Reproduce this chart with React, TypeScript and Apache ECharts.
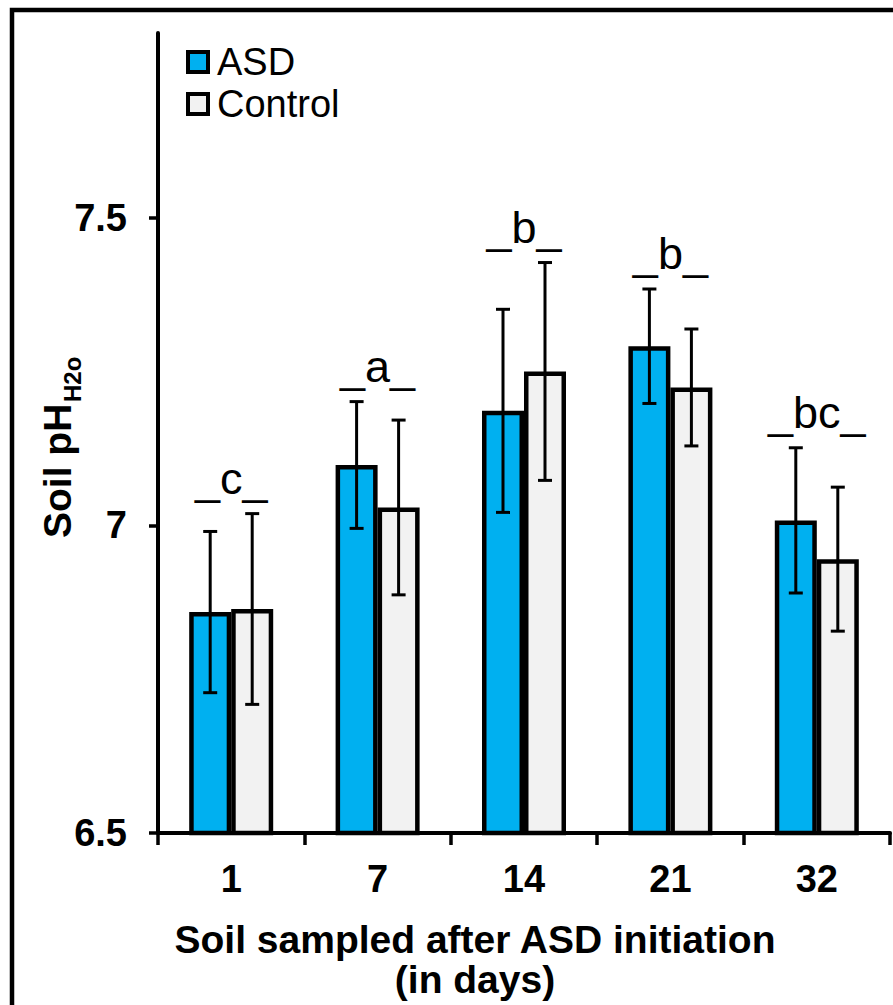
import React, { useEffect, useRef } from 'react';
import * as echarts from 'echarts';

const days = ['1', '7', '14', '21', '32'];
const asdMean = [6.859, 7.098, 7.186, 7.291, 7.008];
const asdErr = [0.131, 0.103, 0.165, 0.093, 0.118];
const controlMean = [6.864, 7.029, 7.25, 7.224, 6.945];
const controlErr = [0.155, 0.142, 0.177, 0.095, 0.117];
const groupLetters = ['c', 'a', 'b', 'b', 'bc'];
const yTicks = [6.5, 7, 7.5];

const FONT = '"Liberation Sans", Arial, sans-serif';
const BAR_W = 42;

function errorSeries(name: string, means: number[], errs: number[], sign: number) {
  return {
    type: 'custom',
    name,
    z: 5,
    data: means.map((m, i) => [i, m, errs[i]]),
    renderItem: (params: any, api: any) => {
      const i = api.value(0);
      const m = api.value(1);
      const e = api.value(2);
      const top = api.coord([i, m + e]);
      const bot = api.coord([i, m - e]);
      const x = top[0] + (sign * BAR_W) / 2;
      const cap = 7;
      const st = { stroke: '#000', lineWidth: 3 };
      return {
        type: 'group',
        children: [
          { type: 'line', shape: { x1: x, y1: top[1], x2: x, y2: bot[1] }, style: st },
          { type: 'line', shape: { x1: x - cap, y1: top[1], x2: x + cap, y2: top[1] }, style: st },
          { type: 'line', shape: { x1: x - cap, y1: bot[1], x2: x + cap, y2: bot[1] }, style: st },
        ],
      };
    },
  };
}

export default function App() {
  const ref = useRef<HTMLDivElement>(null);
  useEffect(() => {
    if (!ref.current) return;
    const chart = echarts.init(ref.current, null, { renderer: 'svg' });
    const groupTops = days.map((_, i) =>
      Math.max(asdMean[i] + asdErr[i], controlMean[i] + controlErr[i])
    );
    chart.setOption({
      animation: false,
      backgroundColor: '#fff',
      textStyle: { fontFamily: FONT },
      grid: { left: 158, top: 33, right: 3, bottom: 172, containLabel: false },
      legend: {
        data: ['ASD', 'Control'],
        orient: 'vertical',
        left: 181,
        top: 38,
        itemWidth: 20,
        itemHeight: 20,
        itemGap: 4,
        icon: 'rect',
        itemStyle: { borderColor: '#000', borderWidth: 4 },
        textStyle: { fontSize: 38, color: '#000', fontFamily: FONT, padding: [0, 0, 0, 4] },
      },
      xAxis: {
        type: 'category',
        data: days,
        axisLine: { lineStyle: { color: '#000', width: 4 } },
        axisTick: { show: true, length: 12, lineStyle: { color: '#000', width: 3.5 } },
        axisLabel: { color: '#000', fontSize: 38, fontWeight: 'bold', margin: 27, fontFamily: FONT },
      },
      yAxis: {
        type: 'value',
        min: 6.5,
        max: 7.8,
        interval: 0.5,
        splitLine: { show: false },
        axisLine: { show: true, lineStyle: { color: '#000', width: 4 } },
        axisTick: { show: true, length: 9, customValues: yTicks, lineStyle: { color: '#000', width: 3.5 } },
        axisLabel: {
          color: '#000',
          fontSize: 38,
          fontWeight: 'bold',
          margin: 31,
          fontFamily: FONT,
          customValues: yTicks,
        },
      },
      series: [
        {
          type: 'bar',
          name: 'ASD',
          data: asdMean,
          barWidth: BAR_W,
          barGap: '0%',
          itemStyle: { color: '#00B0F0', borderColor: '#000', borderWidth: 4.5 },
        },
        {
          type: 'bar',
          name: 'Control',
          data: controlMean,
          barWidth: BAR_W,
          barGap: '0%',
          itemStyle: { color: '#F2F2F2', borderColor: '#000', borderWidth: 4.5 },
        },
        errorSeries('ASD error', asdMean, asdErr, -1),
        errorSeries('Control error', controlMean, controlErr, 1),
        {
          type: 'custom',
          name: 'letters',
          z: 6,
          data: groupTops.map((t, i) => [i, t]),
          renderItem: (params: any, api: any) => {
            const i = api.value(0);
            const p = api.coord([i, api.value(1)]);
            return {
              type: 'text',
              x: p[0],
              y: p[1] - 13,
              style: {
                text: '_' + groupLetters[i] + '_',
                fontSize: 45,
                fontFamily: FONT,
                fill: '#000',
                align: 'center',
                verticalAlign: 'bottom',
              },
            };
          },
        },
      ],
      graphic: [
        {
          type: 'rect',
          shape: { x: 12, y: 10, width: 900, height: 1010 },
          style: { fill: 'none', stroke: '#000', lineWidth: 4.5 },
        },
        {
          type: 'text',
          x: 57,
          y: 538,
          rotation: Math.PI / 2,
          style: {
            text: 'Soil pH',
            fontSize: 39,
            fontWeight: 'bold',
            fontFamily: FONT,
            fill: '#000',
            align: 'left',
            verticalAlign: 'middle',
          },
        },
        {
          type: 'text',
          x: 72,
          y: 402,
          rotation: Math.PI / 2,
          style: {
            text: 'H2o',
            fontSize: 24,
            fontWeight: 'bold',
            fontFamily: FONT,
            fill: '#000',
            align: 'left',
            verticalAlign: 'middle',
          },
        },
        {
          type: 'text',
          x: 475,
          y: 939,
          style: {
            text: 'Soil sampled after ASD initiation',
            fontSize: 39,
            fontWeight: 'bold',
            fontFamily: FONT,
            fill: '#000',
            align: 'center',
            verticalAlign: 'middle',
          },
        },
        {
          type: 'text',
          x: 475,
          y: 979,
          style: {
            text: '(in days)',
            fontSize: 39,
            fontWeight: 'bold',
            fontFamily: FONT,
            fill: '#000',
            align: 'center',
            verticalAlign: 'middle',
          },
        },
      ],
    });
    return () => chart.dispose();
  }, []);
  return (
    <div
      ref={ref}
      style={{ position: 'fixed', left: 0, top: 0, width: 893, height: 1005 }}
    />
  );
}
